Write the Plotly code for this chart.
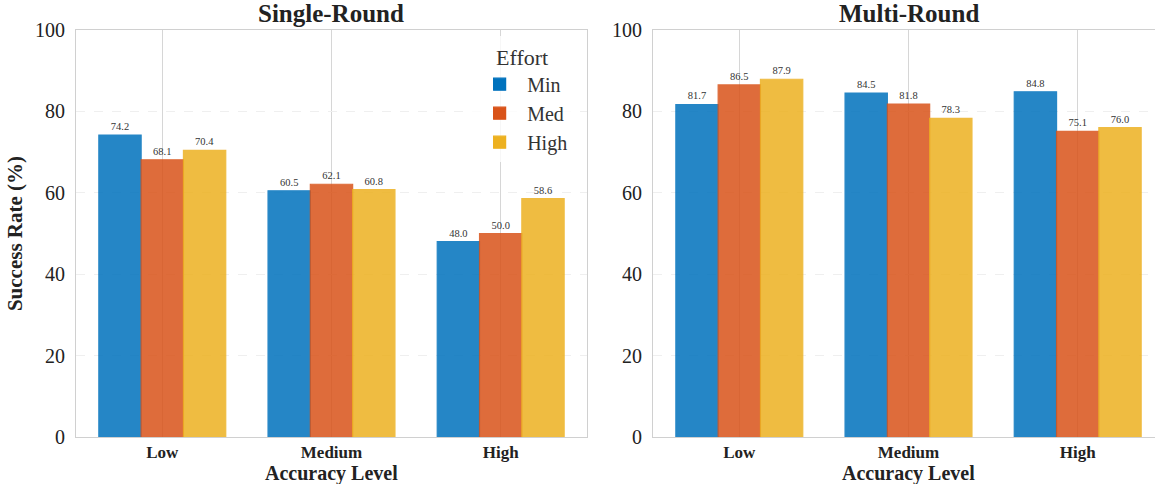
import plotly.graph_objects as go
from plotly.subplots import make_subplots

categories = ["Low", "Medium", "High"]
efforts = ["Min", "Med", "High"]
single_round = {
    "Min": [74.2, 60.5, 48.0],
    "Med": [68.1, 62.1, 50.0],
    "High": [70.4, 60.8, 58.6],
}
multi_round = {
    "Min": [81.7, 84.5, 84.8],
    "Med": [86.5, 81.8, 75.1],
    "High": [87.9, 78.3, 76.0],
}
colors = {"Min": "#0072BD", "Med": "#D95319", "High": "#EDB120"}
offsets = {"Min": -0.25, "Med": 0.0, "High": 0.25}

SERIF = "Liberation Serif, Times New Roman, serif"

fig = make_subplots(rows=1, cols=2, horizontal_spacing=0.0607,
                    subplot_titles=("<b>Single-Round</b>", "<b>Multi-Round</b>"))

x_idx = list(range(len(categories)))
for col, data in ((1, single_round), (2, multi_round)):
    for e in efforts:
        fig.add_trace(go.Bar(
            x=[i + offsets[e] for i in x_idx],
            y=data[e],
            width=0.25,
            name=e,
            legendgroup=e,
            showlegend=(col == 1),
            marker=dict(color=colors[e], opacity=0.85,
                        line=dict(color=colors[e], width=1.2)),
            text=[f"{v:.1f}" for v in data[e]],
            textposition="outside",
            textfont=dict(family=SERIF, size=10.5, color="#333333"),
            cliponaxis=False,
        ), row=1, col=col)

for col in (1, 2):
    fig.update_xaxes(
        range=[-0.51, 2.51],
        tickmode="array", tickvals=x_idx,
        ticktext=[f"<b>{c}</b>" for c in categories],
        tickfont=dict(family=SERIF, size=17, color="#222222"),
        showgrid=True, gridcolor="#d6d6d6", gridwidth=1,
        showline=True, linecolor="#d0d0d0", linewidth=1, mirror=True,
        ticks="", zeroline=False, automargin=False, ticklabelstandoff=0,
        row=1, col=col)
    fig.update_yaxes(
        range=[0, 100], tickvals=[0, 20, 40, 60, 80, 100],
        tickfont=dict(family=SERIF, size=20, color="#222222"),
        showgrid=True, gridcolor="#efefef", gridwidth=1, griddash="dash",
        showline=True, linecolor="#d0d0d0", linewidth=1, mirror=True,
        ticks="", zeroline=False, ticklabelstandoff=6, automargin=False,
        row=1, col=col)

fig.update_yaxes(title=dict(text="<b>Success Rate (%)</b>", font=dict(family=SERIF, size=21, color="#222222"), standoff=6), row=1, col=1)

for ann in fig.layout.annotations:
    ann.font = dict(family=SERIF, size=25, color="#222222")
    ann.yshift = 1

# x-axis titles as annotations placed under each subplot
for xr in ("x domain", "x2 domain"):
    fig.add_annotation(text="<b>Accuracy Level</b>", xref=xr, yref="paper",
                       x=0.5, y=0, yanchor="middle", yshift=-36, showarrow=False,
                       font=dict(family=SERIF, size=20, color="#222222"))

fig.update_layout(
    width=1166, height=484,
    margin=dict(l=76, r=2, t=30, b=47, autoexpand=False),
    paper_bgcolor="white", plot_bgcolor="white",
    barmode="overlay",
    font=dict(family=SERIF, color="#222222"),
    legend=dict(
        title=dict(text="Effort", font=dict(family=SERIF, size=22, color="#333333"), side="top center"),
        font=dict(family=SERIF, size=20, color="#333333"),
        x=0.456, xanchor="right", y=0.985, yanchor="top",
        bgcolor="rgba(255,255,255,0.8)", itemwidth=45, tracegroupgap=0,
    ),
    showlegend=True,
)

fig.write_html("out.html", config={"displayModeBar": False},
               post_script="document.body.style.margin='0';document.body.style.overflow='hidden';")
